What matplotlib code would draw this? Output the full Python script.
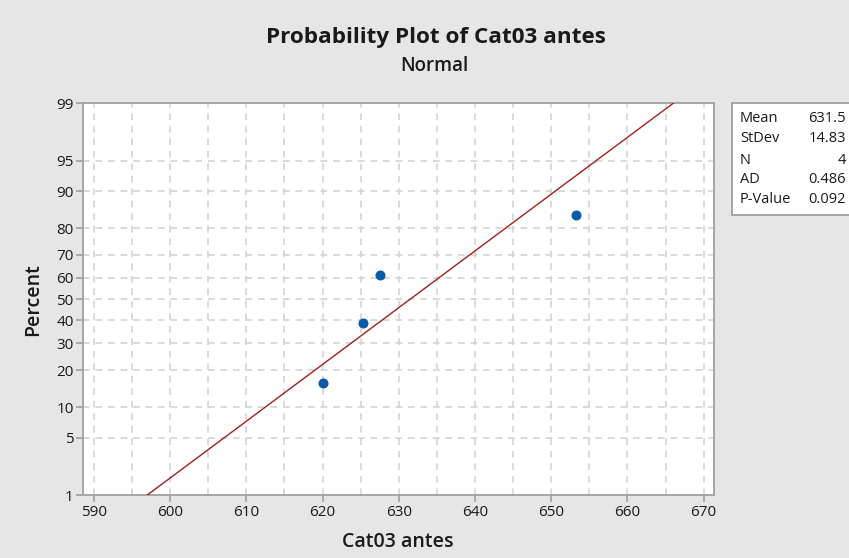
import numpy as np
import matplotlib
matplotlib.use("Agg")
import matplotlib.pyplot as plt
from statistics import NormalDist

# ---- data ----
values = [620.0, 625.3, 627.5, 653.2]
fit_mean = 631.5
fit_stdev = 14.83
stat_names = ["Mean", "StDev", "N", "AD", "P-Value"]
stat_values = ["631.5", "14.83", "4", "0.486", "0.092"]
x_ticks = [590, 600, 610, 620, 630, 640, 650, 660, 670]
y_ticks = [1, 5, 10, 20, 30, 40, 50, 60, 70, 80, 90, 95, 99]
title = "Probability Plot of Cat03 antes"
subtitle = "Normal"
xlabel = "Cat03 antes"
ylabel = "Percent"

plt.rcParams['font.family'] = ['Open Sans', 'DejaVu Sans']

nd = NormalDist()
_inv = np.vectorize(lambda p: nd.inv_cdf(min(max(p / 100.0, 1e-9), 1 - 1e-9)), otypes=[float])
_cdf = np.vectorize(lambda z: nd.cdf(z) * 100.0, otypes=[float])

def fwd(p):
    return _inv(np.asarray(p, dtype=float))

def inv(z):
    return _cdf(np.asarray(z, dtype=float))

n = len(values)
xs = np.sort(np.array(values))
ranks = np.arange(1, n + 1)
pct = (ranks - 0.3) / (n + 0.4) * 100.0

bg = "#e6e6e6"
fig = plt.figure(figsize=(8.49, 5.58), dpi=100, facecolor=bg)
ax = fig.add_axes([0.0981, 0.1129, 0.8414 - 0.0981, 0.8149 - 0.1129])
ax.set_facecolor("white")
ax.set_yscale('function', functions=(fwd, inv))
ax.set_xlim(588.6, 671.4)
ax.set_ylim(1, 99)

# grid
grid_kw = dict(color="#d4d4d4", lw=1.2, ls=(0, (4, 3.5)), zorder=0)
for gx in np.arange(590, 671, 5):
    ax.axvline(gx, **grid_kw)
for gy in y_ticks[1:-1]:
    ax.axhline(gy, **grid_kw)

# fitted line
zline = np.linspace(fwd(0.5), fwd(99.5), 200)
ax.plot(fit_mean + fit_stdev * zline, inv(zline), color="#a31f1f", lw=1.0, zorder=3)

ax.plot(xs, pct, "o", color="#0a5aa8", ms=6.2, mec="#0a5aa8", zorder=4)

ax.set_xticks(x_ticks)
ax.set_yticks(y_ticks)
ax.set_yticklabels([str(t) for t in y_ticks])
ax.minorticks_off()
ax.tick_params(axis="both", labelsize=11, colors="#9a9a9a", labelcolor="#1a1a1a", length=5, width=1.1, pad=2)
for s in ax.spines.values():
    s.set_color("#a0a0a0")
    s.set_linewidth(1.3)

fig.text(436 / 849, 1 - 37 / 558, title, ha="center", va="center",
         fontsize=16.2, fontweight="bold", color="#1a1a1a")
fig.text(434 / 849, 1 - 66 / 558, subtitle, ha="center", va="center",
         fontsize=13.5, fontweight="semibold", color="#1a1a1a")
fig.text(398 / 849, 1 - 542 / 558, xlabel, ha="center", va="center", fontsize=14,
         fontweight="semibold", color="#1a1a1a")
fig.text(33 / 849, 1 - 300 / 558, ylabel, ha="center", va="center", rotation=90, fontsize=14,
         fontweight="semibold", color="#1a1a1a")

# stats box
box = fig.add_axes([732 / 849, 1 - 215 / 558, (849 - 732) / 849 + 0.01, (215 - 103) / 558])
box.set_facecolor("white")
box.set_xticks([]); box.set_yticks([])
for s in box.spines.values():
    s.set_color("#a0a0a0"); s.set_linewidth(1.3)
row_y = [118.3, 138.3, 160, 180, 199.3]
for name, val, ry in zip(stat_names, stat_values, row_y):
    fig.text(740 / 849, 1 - ry / 558, name, ha="left", va="center", fontsize=10.5, color="#1a1a1a")
    fig.text(846 / 849, 1 - ry / 558, val, ha="right", va="center", fontsize=10.5, color="#1a1a1a")

fig.savefig("out.png", dpi=100, facecolor=bg)
